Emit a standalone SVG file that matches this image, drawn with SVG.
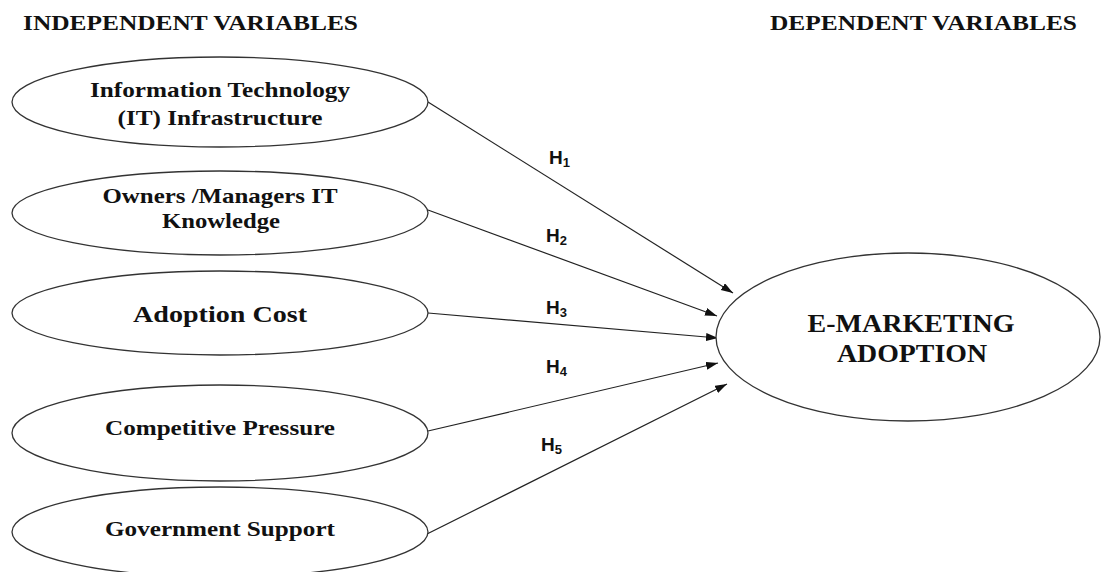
<svg xmlns="http://www.w3.org/2000/svg" width="1103" height="572" viewBox="0 0 1103 572">
<style>
.bg{fill:#ffffff}
.node{fill:#ffffff;stroke:#333;stroke-width:1.3}
.t{font-family:"Liberation Serif","Times New Roman",serif;font-weight:bold;fill:#111;text-anchor:middle}
.hd{font-family:"Liberation Serif","Times New Roman",serif;font-weight:bold;fill:#111;font-size:21px}
.h{font-family:"Liberation Sans",Arial,sans-serif;font-weight:bold;fill:#111;font-size:19px}
.sub{font-size:13px}
.conn{stroke:#222;stroke-width:1.2;fill:none;marker-end:url(#arr)}
</style>
<defs>
<marker id="arr" markerUnits="userSpaceOnUse" markerWidth="13" markerHeight="9" refX="12" refY="4" orient="auto">
<path d="M0,0 L12,4 L0,8 z" fill="#111"/>
</marker>
</defs>
<rect class="bg" x="0" y="0" width="1103" height="572"/>
<text class="hd" x="23" y="30" textLength="335" lengthAdjust="spacingAndGlyphs">INDEPENDENT VARIABLES</text>
<text class="hd" x="770" y="30" textLength="307" lengthAdjust="spacingAndGlyphs">DEPENDENT VARIABLES</text>

<g id="connectors">
<line class="conn" x1="428" y1="102" x2="733" y2="293"/>
<line class="conn" x1="428" y1="210" x2="717" y2="316"/>
<line class="conn" x1="428" y1="313" x2="718" y2="338"/>
<line class="conn" x1="428" y1="431" x2="718" y2="363"/>
<line class="conn" x1="427" y1="534" x2="727" y2="384"/>
<text class="h" x="549" y="164">H<tspan class="sub" dy="3">1</tspan></text>
<text class="h" x="546" y="242">H<tspan class="sub" dy="3">2</tspan></text>
<text class="h" x="546" y="314">H<tspan class="sub" dy="3">3</tspan></text>
<text class="h" x="546" y="373">H<tspan class="sub" dy="3">4</tspan></text>
<text class="h" x="541" y="451">H<tspan class="sub" dy="3">5</tspan></text>
</g>

<g id="it-infrastructure">
<ellipse class="node" cx="220" cy="102" rx="208" ry="45"/>
<text class="t" font-size="22" x="220" y="97" textLength="260" lengthAdjust="spacingAndGlyphs">Information Technology</text>
<text class="t" font-size="22" x="220" y="125" textLength="205" lengthAdjust="spacingAndGlyphs">(IT) Infrastructure</text>
</g>

<g id="it-knowledge">
<ellipse class="node" cx="220" cy="213" rx="208" ry="42"/>
<text class="t" font-size="22" x="220" y="203" textLength="235" lengthAdjust="spacingAndGlyphs">Owners /Managers IT</text>
<text class="t" font-size="22" x="221" y="228" textLength="118" lengthAdjust="spacingAndGlyphs">Knowledge</text>
</g>

<g id="adoption-cost">
<ellipse class="node" cx="220" cy="313" rx="208" ry="42"/>
<text class="t" font-size="24" x="220" y="322" textLength="174" lengthAdjust="spacingAndGlyphs">Adoption Cost</text>
</g>

<g id="competitive-pressure">
<ellipse class="node" cx="220" cy="433" rx="208" ry="48"/>
<text class="t" font-size="21" x="220" y="435" textLength="230" lengthAdjust="spacingAndGlyphs">Competitive Pressure</text>
</g>

<g id="government-support">
<ellipse class="node" cx="220" cy="532" rx="208" ry="45"/>
<text class="t" font-size="21" x="220" y="536" textLength="230" lengthAdjust="spacingAndGlyphs">Government Support</text>
</g>

<g id="e-marketing-adoption">
<ellipse class="node" cx="908" cy="337" rx="192" ry="84"/>
<text class="t" font-size="26" x="911" y="332" textLength="207" lengthAdjust="spacingAndGlyphs">E-MARKETING</text>
<text class="t" font-size="26" x="912" y="362" textLength="150" lengthAdjust="spacingAndGlyphs">ADOPTION</text>
</g>
</svg>
